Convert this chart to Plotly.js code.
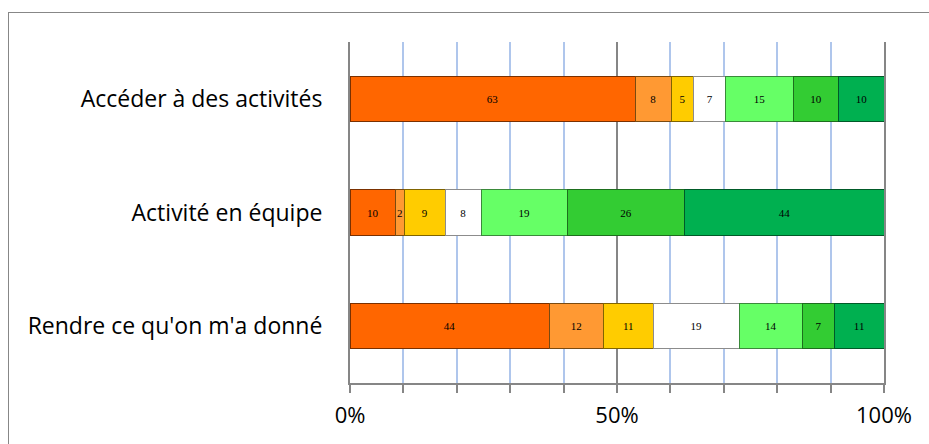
<!DOCTYPE html>
<html><head><meta charset="utf-8">
<script src="https://cdn.plot.ly/plotly-3.0.1.min.js"></script>
<style>
html,body{margin:0;padding:0;background:#fff;}
#wrap{position:relative;width:929px;height:444px;overflow:hidden;}
#frame{position:absolute;left:8px;top:12px;width:940px;height:460px;border-top:1.5px solid #878787;border-left:1.5px solid #878787;pointer-events:none;z-index:5;}
#chart{position:absolute;left:0;top:0;width:929px;height:444px;}
</style></head>
<body><div id="wrap"><div id="chart"></div><div id="frame"></div></div>
<script>
const categories = ["Accéder à des activités", "Activité en équipe", "Rendre ce qu'on m'a donné"];
const s1 = [63, 10, 44];
const s2 = [8, 2, 12];
const s3 = [5, 9, 11];
const s4 = [7, 8, 19];
const s5 = [15, 19, 14];
const s6 = [10, 26, 7];
const s7 = [10, 44, 11];
const series = [s1, s2, s3, s4, s5, s6, s7];
const colors = ["#FF6600", "#FF9933", "#FFCC00", "#FFFFFF", "#66FF66", "#33CC33", "#00B050"];
const lineColors = ["#7a3000", "#7a4a10", "#806400", "#8c8c8c", "#3a8a3a", "#1d6e1d", "#005a28"];
const tickVals = [0, 50, 100];
const tickText = ["0%", "50%", "100%"];

const traces = series.map((vals, i) => ({
  type: 'bar', orientation: 'h',
  y: categories, x: vals,
  text: vals.map(String), texttemplate: '%{text}',
  textposition: 'inside', insidetextanchor: 'middle', textangle: 0,
  textfont: {family: 'Liberation Serif, serif', size: 11, color: '#000'},
  marker: {color: colors[i], line: {color: lineColors[i], width: 1}},
  hoverinfo: 'skip', showlegend: false
}));

const layout = {
  width: 929, height: 444,
  margin: {l: 350, r: 45, t: 42, b: 61},
  barmode: 'stack', barnorm: 'percent', bargap: 0.6,
  paper_bgcolor: '#fff', plot_bgcolor: '#fff',
  uniformtext: {mode: 'show', minsize: 11},
  font: {family: 'Open Sans, Liberation Sans, sans-serif', size: 23, color: '#000'},
  xaxis: {
    range: [0, 100], tickvals: tickVals, ticktext: tickText,
    showgrid: true, gridcolor: '#868686', gridwidth: 2,
    ticks: 'outside', ticklen: 8, tickcolor: '#868686', tickwidth: 2,
    showline: true, linecolor: '#868686', linewidth: 2,
    zeroline: false, ticklabelstandoff: 4,
    minor: {dtick: 10, showgrid: true, gridcolor: '#AFC6EC', gridwidth: 2, ticks: 'outside', ticklen: 8, tickcolor: '#868686', tickwidth: 2},
    tickfont: {size: 22, family: 'Open Sans, Liberation Sans, sans-serif'},
    fixedrange: true
  },
  yaxis: {
    autorange: 'reversed', showgrid: false, zeroline: false,
    showline: true, mirror: true, linecolor: '#868686', linewidth: 2,
    ticks: '', ticklabelstandoff: 21,
    tickfont: {size: 23, family: 'Open Sans, Liberation Sans, sans-serif'},
    fixedrange: true
  }
};
Plotly.newPlot('chart', traces, layout, {staticPlot: true, displayModeBar: false});
</script></body></html>
